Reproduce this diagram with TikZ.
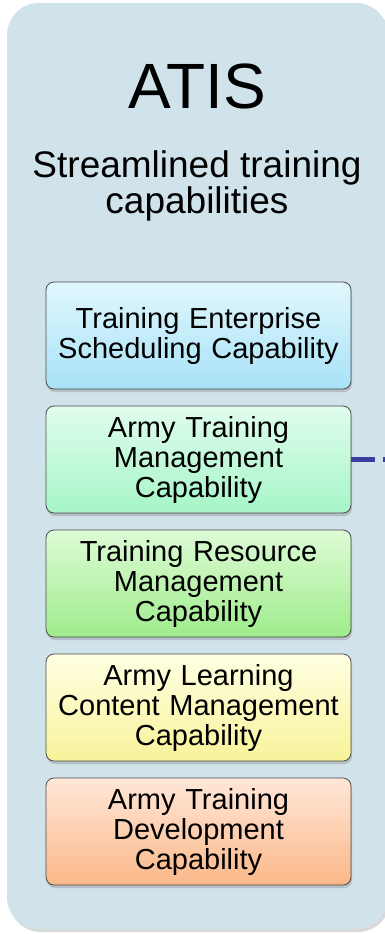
\documentclass[tikz,border=0pt]{standalone}
\usepackage{fontspec}
\setmainfont{Liberation Sans}
\usetikzlibrary{positioning,shadows}

\definecolor{panel}{HTML}{D0E2EA}
\definecolor{boxline}{HTML}{4A4A4A}
\definecolor{linkblue}{HTML}{3D3D9E}
\definecolor{schedtop}{HTML}{E0F7FD}
\definecolor{schedbot}{HTML}{A8E2F7}
\definecolor{mgmttop}{HTML}{E0FDEC}
\definecolor{mgmtbot}{HTML}{A6F5C8}
\definecolor{restop}{HTML}{DDFBD6}
\definecolor{resbot}{HTML}{9FEC8B}
\definecolor{lcmstop}{HTML}{FFFFE2}
\definecolor{lcmsbot}{HTML}{F8F39A}
\definecolor{devtop}{HTML}{FFE7D8}
\definecolor{devbot}{HTML}{FBB889}

\tikzset{
  capbox/.style={draw=boxline, line width=0.8pt, rounded corners=8pt,
    minimum width=305pt, minimum height=107pt, text width=300pt,
    align=center, inner sep=0pt, outer sep=0pt,
    font=\fontsize{29}{30}\selectfont,
    drop shadow={shadow xshift=1pt, shadow yshift=-3pt, opacity=0.35}},
  link/.style={draw=linkblue, line width=5pt, dash pattern=on 24pt off 8pt}
}

\begin{document}
\begin{tikzpicture}[x=1pt,y=-1pt]
\useasboundingbox (0,0) rectangle (385,934);
\clip (0,0) rectangle (385,934);
% panel
\path[fill=panel, rounded corners=32pt,
  drop shadow={shadow xshift=2pt, shadow yshift=-3pt, opacity=0.3}]
  (7,3) rectangle (388,929);
\node (title) at (197,86) {\fontsize{64}{64}\selectfont ATIS};
\node[align=center, font=\fontsize{37}{33}\selectfont] (sub) at (197,186)
  {Streamlined training\\capabilities};
% capabilities
\node[capbox, top color=schedtop, bottom color=schedbot] (b1) at (198.5,335.5)
  {Training Enterprise\\Scheduling Capability};
\node[capbox, top color=mgmttop, bottom color=mgmtbot, below=17pt of b1] (b2)
  {Army Training\\Management\\Capability};
\node[capbox, top color=restop, bottom color=resbot, below=17pt of b2] (b3)
  {Training Resource\\Management\\Capability};
\node[capbox, top color=lcmstop, bottom color=lcmsbot, below=17pt of b3] (b4)
  {Army Learning\\Content Management\\Capability};
\node[capbox, top color=devtop, bottom color=devbot, below=17pt of b4] (b5)
  {Army Training\\Development\\Capability};
\coordinate[right=45pt of b2.east] (tail);
\draw[link] (b2.east) -- (tail);
\end{tikzpicture}
\end{document}
